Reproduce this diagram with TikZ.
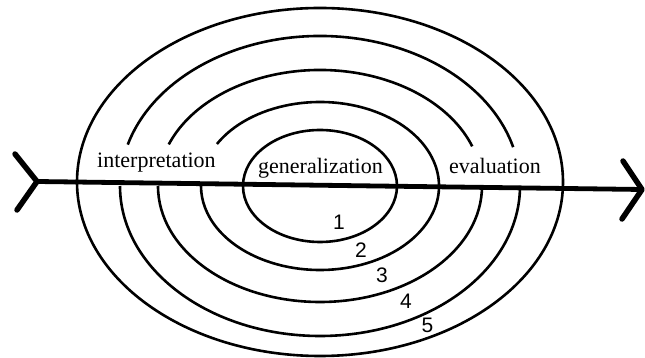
\documentclass[tikz,border=0pt]{standalone}
\usepackage{fontspec}
\setmainfont{Liberation Serif}
\newfontfamily\digitfont{Liberation Sans}

\begin{document}
\begin{tikzpicture}[
    x=1pt, y=1pt,
    ring/.style={line width=2.6pt},
    axis/.style={line width=4.8pt},
    barb/.style={line width=5.5pt, line cap=round, line join=round},
    stage/.style={inner sep=0pt, anchor=base west, font=\fontsize{22}{26}\selectfont},
    level/.style={inner sep=0pt, font=\digitfont\fontsize{21}{25}\selectfont}
]
\useasboundingbox (0,0) rectangle (645,358);
\coordinate (c) at (320,172);
\coordinate (outer) at (320,176);
\coordinate (tail) at (37,176.5);
\coordinate (head) at (642,168.5);
\coordinate (tail up) at (15,204);
\coordinate (tail down) at (17,148);
\coordinate (head up) at (623,197);
\coordinate (head down) at (622,139);
% rings, inner to outer
\draw[ring] (c) ellipse[x radius=77, y radius=56];
\draw[ring] (c) ++(150:119 and 84) arc[start angle=150, end angle=-180, x radius=119, y radius=84];
\draw[ring] (c) ++(159:162 and 116) arc[start angle=159, end angle=20, x radius=162, y radius=116];
\draw[ring] (c) ++(0:162 and 116) arc[start angle=0, end angle=-180, x radius=162, y radius=116];
\draw[ring] (c) ++(164:200 and 150) arc[start angle=164, end angle=15, x radius=200, y radius=150];
\draw[ring] (c) ++(0:200 and 150) arc[start angle=0, end angle=-180, x radius=200, y radius=150];
\draw[ring] (outer) ellipse[x radius=243, y radius=174];
% the axis with its two chevrons
\draw[axis] (tail) -- (head);
\draw[barb] (tail up) -- (tail) -- (tail down);
\draw[barb] (head up) -- (head) -- (head down);
\node[stage] (interp) at (97,190.5) {interpretation};
\node[stage] (general) at (258,184) {generalization};
\node[stage] (eval) at (449,184.7) {evaluation};
\node[level] (n1) at (339,135.5) {1};
\node[level] (n2) at (361,108) {2};
\node[level] (n3) at (382,83) {3};
\node[level] (n4) at (406,56.3) {4};
\node[level] (n5) at (427.5,32.2) {5};
\end{tikzpicture}
\end{document}
